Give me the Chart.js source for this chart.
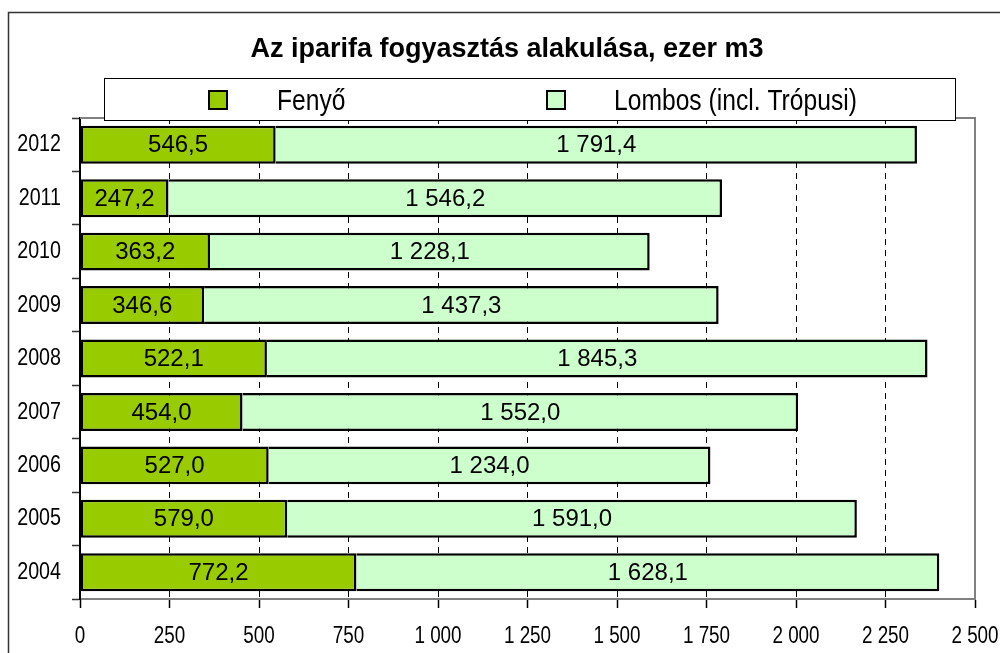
<!DOCTYPE html>
<html>
<head>
<meta charset="utf-8">
<script src="https://cdn.jsdelivr.net/npm/chart.js@4/dist/chart.umd.min.js"></script>
<style>
  html, body { margin: 0; padding: 0; background: #fff; }
  #wrap { width: 1000px; height: 653px; position: relative; }
</style>
</head>
<body>
<div id="wrap"><canvas id="c" width="1000" height="653"></canvas></div>
<script>
// ---- data ----
const TITLE = 'Az iparifa fogyasztás alakulása, ezer m3';
const CATEGORIES = ['2012', '2011', '2010', '2009', '2008', '2007', '2006', '2005', '2004'];
const SERIES_NAMES = ['Fenyő', 'Lombos (incl. Trópusi)'];
const FENYO = [546.5, 247.2, 363.2, 346.6, 522.1, 454.0, 527.0, 579.0, 772.2];
const LOMBOS = [1791.4, 1546.2, 1228.1, 1437.3, 1845.3, 1552.0, 1234.0, 1591.0, 1628.1];
const X_MIN = 0, X_MAX = 2500, X_STEP = 250;

const COLORS = ['#99CC00', '#CCFFCC'];
const SANS = '"Liberation Sans", Arial, sans-serif';
const AXIS_SQUEEZE = 0.82;   // axis labels in the reference use a condensed face

function fmtHU(v, d) {
  const s = Number(v).toFixed(d);
  let [i, f] = s.split('.');
  i = i.replace(/\B(?=(\d{3})+(?!\d))/g, ' ');
  return f !== undefined ? i + ',' + f : i;
}

function squeezedFill(ctx, orig, k) {
  return function (text, x, y) {
    ctx.save();
    ctx.translate(x, y);
    ctx.scale(k, 1);
    orig.call(ctx, text, 0, 0);
    ctx.restore();
  };
}

const decoPlugin = {
  id: 'deco',
  beforeDraw(chart) {
    const ctx = chart.ctx;
    ctx.save();
    ctx.fillStyle = '#fff';
    ctx.fillRect(0, 0, chart.width, chart.height);
    ctx.strokeStyle = '#333';
    ctx.lineWidth = 1.5;
    ctx.strokeRect(8.5, 12.5, chart.width + 20, chart.height + 20);
    ctx.restore();
    // condensed axis labels while the scales draw
    chart.$origFill = ctx.fillText;
    ctx.fillText = squeezedFill(ctx, chart.$origFill, AXIS_SQUEEZE);
  },
  beforeDatasetsDraw(chart) {
    if (chart.$origFill) { chart.ctx.fillText = chart.$origFill; chart.$origFill = null; }
  },
  afterDatasetsDraw(chart) {
    const ctx = chart.ctx;
    ctx.save();
    // value labels
    ctx.font = '24px ' + SANS;
    ctx.fillStyle = '#000';
    ctx.textAlign = 'center';
    ctx.textBaseline = 'middle';
    chart.data.datasets.forEach((ds, di) => {
      const meta = chart.getDatasetMeta(di);
      meta.data.forEach((el, i) => {
        const p = el.getProps(['x', 'y', 'base'], true);
        ctx.fillText(fmtHU(ds.data[i], 1), (p.x + p.base) / 2, p.y + 1);
      });
    });
    ctx.restore();
  },
  afterDraw(chart) {
    const ctx = chart.ctx;
    const a = chart.chartArea;
    ctx.save();
    // plot frame top/right (gray)
    ctx.strokeStyle = '#808080';
    ctx.lineWidth = 2;
    ctx.beginPath();
    ctx.moveTo(a.left, a.top);
    ctx.lineTo(a.right, a.top);
    ctx.lineTo(a.right, a.bottom);
    ctx.stroke();
    // title
    ctx.fillStyle = '#000';
    ctx.font = 'bold 27px ' + SANS;
    ctx.textAlign = 'center';
    ctx.textBaseline = 'alphabetic';
    ctx.fillText(TITLE, 507, 57);
    // legend box
    ctx.fillStyle = '#fff';
    ctx.fillRect(104, 78, 851, 42);
    ctx.strokeStyle = '#000';
    ctx.lineWidth = 1;
    ctx.strokeRect(104.5, 78.5, 851, 42);
    const items = [{sx: 208, tx: 277}, {sx: 546, tx: 614}];
    ctx.font = '29px ' + SANS;
    ctx.textAlign = 'left';
    ctx.textBaseline = 'alphabetic';
    chart.data.datasets.forEach((ds, i) => {
      const it = items[i];
      ctx.fillStyle = ds.backgroundColor;
      ctx.fillRect(it.sx, 90, 20, 20);
      ctx.strokeStyle = '#000';
      ctx.lineWidth = 2;
      ctx.strokeRect(it.sx + 1, 91, 18, 18);
      ctx.fillStyle = '#000';
      ctx.save();
      ctx.translate(it.tx, 110);
      ctx.scale(0.85, 1);
      ctx.fillText(ds.label, 0, 0);
      ctx.restore();
    });
    ctx.restore();
  }
};

new Chart(document.getElementById('c'), {
  type: 'bar',
  data: {
    labels: CATEGORIES,
    datasets: [
      {
        label: SERIES_NAMES[0], data: FENYO,
        backgroundColor: COLORS[0], borderColor: '#000',
        borderWidth: 2.5, borderSkipped: false,
        barPercentage: 0.71, categoryPercentage: 1.0
      },
      {
        label: SERIES_NAMES[1], data: LOMBOS,
        backgroundColor: COLORS[1], borderColor: '#000',
        borderWidth: {top: 2.5, right: 2.5, bottom: 2.5, left: 0}, borderSkipped: false,
        barPercentage: 0.71, categoryPercentage: 1.0
      }
    ]
  },
  options: {
    indexAxis: 'y',
    responsive: false,
    animation: false,
    devicePixelRatio: 1,
    layout: { padding: { top: 118, right: 25, bottom: 0, left: 0 } },
    plugins: {
      legend: { display: false },
      title: { display: false },
      tooltip: { enabled: false }
    },
    scales: {
      x: {
        stacked: true,
        min: X_MIN, max: X_MAX,
        afterFit(s) { s.height = 54; s.paddingLeft = 0; s.paddingRight = 0; },
        ticks: {
          stepSize: X_STEP,
          autoSkip: false,
          maxRotation: 0,
          padding: 15,
          color: '#000',
          font: { family: SANS, size: 23 },
          callback: (v) => fmtHU(v, 0)
        },
        grid: {
          color: (c) => (c.tick && (c.tick.value === X_MAX || c.tick.value === X_MIN)) ? 'rgba(0,0,0,0)' : '#000',
          lineWidth: 1,
          tickColor: '#000',
          tickWidth: 1.5,
          tickLength: 9,
          tickBorderDash: []
        },
        border: { display: true, color: '#808080', width: 2, dash: [6, 5] }
      },
      y: {
        stacked: true,
        afterFit(s) { s.width = 80; s.paddingTop = 0; s.paddingBottom = 0; },
        ticks: {
          padding: 11,
          color: '#000',
          font: { family: SANS, size: 24 }
        },
        grid: {
          drawOnChartArea: false,
          drawTicks: true,
          tickLength: 8,
          tickColor: '#333',
          tickWidth: 1.5
        },
        border: { display: true, color: '#000', width: 2 }
      }
    }
  },
  plugins: [decoPlugin]
});
</script>
</body>
</html>
